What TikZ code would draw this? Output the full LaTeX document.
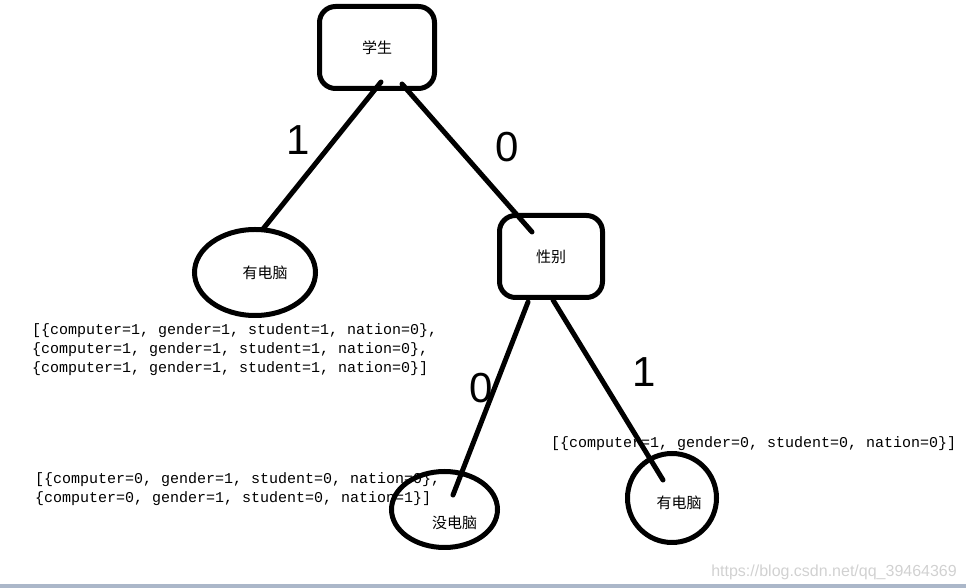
\documentclass[tikz,border=0pt]{standalone}
\usepackage{fontspec}
\setmainfont{Liberation Sans}
\setmonofont{Liberation Mono}
\newfontfamily\cjk{Noto Sans CJK SC}
\usetikzlibrary{shapes.geometric}
\definecolor{barcol}{RGB}{171,183,201}
\tikzset{
  boxnode/.style={draw, line width=5pt, rounded corners=16pt, font=\cjk\fontsize{15}{15}\selectfont},
  leaf/.style={draw, ellipse, line width=5pt},
  branch/.style={line width=5pt, line cap=round},
  digit/.style={font=\fontsize{42}{42}\selectfont},
  rows/.style={font=\ttfamily\fontsize{15}{19}\selectfont, align=left, anchor=base west}
}
\begin{document}
\begin{tikzpicture}[x=1pt, y=1pt, every label/.style={font=\cjk\fontsize{15}{15}\selectfont}]
\tikzstyle{every node}+=[inner sep=0pt]
\useasboundingbox (0,0) rectangle (966,588);
\fill [barcol] (0,0) rectangle (966,4);
\node [rows] (set1) at (32,215) {[\{computer=1, gender=1, student=1, nation=0\},\\\{computer=1, gender=1, student=1, nation=0\},\\\{computer=1, gender=1, student=1, nation=0\}]};
\node [rows] (set2) at (35,85) {[\{computer=0, gender=1, student=0, nation=0\},\\\{computer=0, gender=1, student=0, nation=1\}]};
\node [rows] (set3) at (551,140) {[\{computer=1, gender=0, student=0, nation=0\}]};
\node [anchor=base east, text=black!18, font=\fontsize{16}{16}\selectfont] (mark) at (957,11) {https://blog.csdn.net/qq\_39464369};
\node [boxnode, minimum width=115, minimum height=82] (stu) at (377,540.5) {学生};
\node [boxnode, minimum width=103, minimum height=82] (sex) at (551,331.5) {性别};
\node [leaf, minimum width=121, minimum height=86, label={[xshift=10]center:有电脑}] (pc1) at (255,315.5) {};
\node [leaf, minimum width=106, minimum height=76, label={[xshift=10, yshift=-13]center:没电脑}] (nopc) at (444.5,78.5) {};
\node [leaf, minimum width=89, minimum height=89, label={[xshift=7, yshift=-5]center:有电脑}] (pc2) at (672,90) {};
\draw [branch] ([shift={(4,9)}]stu.south) -- ([shift={(8,-2)}]pc1.north);
\draw [branch] ([shift={(25,7)}]stu.south) -- ([shift={(-19,24.5)}]sex.center);
\draw [branch] ([shift={(-23,-2)}]sex.south) -- ([shift={(8.5,14.5)}]nopc.center);
\draw [branch] ([shift={(2,0)}]sex.south) -- ([shift={(-9,18)}]pc2.center);
\node [digit] (yes1) at (298,448) {1};
\node [digit] (no1) at (507,441) {0};
\node [digit] (no2) at (481,200) {0};
\node [digit] (yes2) at (644,216) {1};
\end{tikzpicture}
\end{document}
